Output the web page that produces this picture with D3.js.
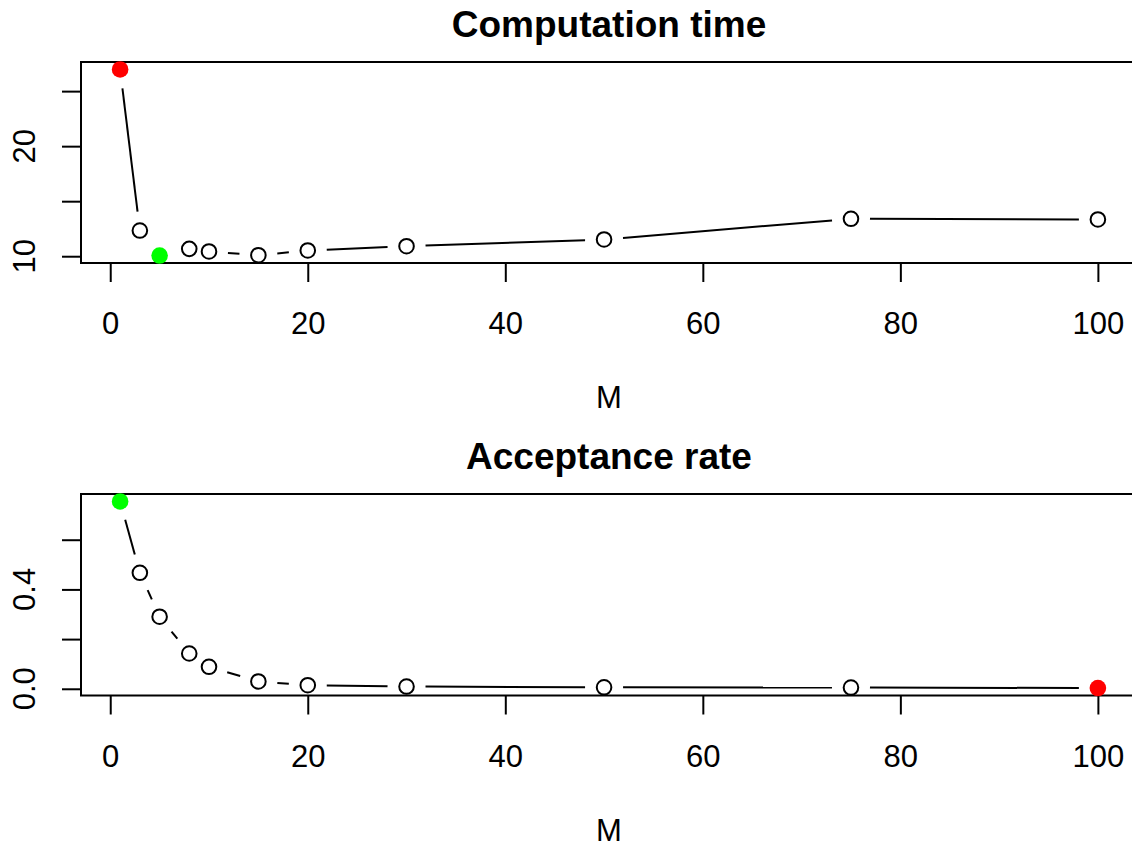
<!DOCTYPE html>
<html>
<head>
<meta charset="utf-8">
<script src="https://cdn.jsdelivr.net/npm/d3@7"></script>
<style>
  html, body { margin: 0; padding: 0; background: #fff; }
  svg { display: block; font-family: "Liberation Sans", Arial, Helvetica, sans-serif; }
</style>
</head>
<body>
<svg id="chart" width="1132" height="846"></svg>
<script>
// Tuning parameter M and the two measured quantities
const mValues = [1, 3, 5, 8, 10, 15, 20, 30, 50, 75, 100];
const computationTime = [26.97, 12.33, 10.06, 10.67, 10.43, 10.09, 10.52, 10.91, 11.52, 13.40, 13.34];
const acceptanceRate = [0.754, 0.467, 0.29, 0.142, 0.0886, 0.0294, 0.0145, 0.009, 0.006, 0.005, 0.003];

// Axis ticks and which of them carry labels
const xTicks = [0, 20, 40, 60, 80, 100];
const timeTicks = [10, 15, 20, 25];
const timeTickLabels = [10, 20];
const rateTicks = [0, 0.2, 0.4, 0.6];
const rateTickLabels = [0, 0.4];

// Highlighted points: index of the red point and of the green point
const timeHighlight = { red: 0, green: 2 };
const rateHighlight = { red: 10, green: 0 };

const svg = d3.select("#chart");

const W = { left: 81, right: 1137 };
const panels = [
  { title: "Computation time", values: computationTime, ticks: timeTicks, labels: timeTickLabels,
    fmt: d3.format("d"), top: 62, bottom: 263, hl: timeHighlight },
  { title: "Acceptance rate", values: acceptanceRate, ticks: rateTicks, labels: rateTickLabels,
    fmt: d3.format(".1f"), top: 494, bottom: 695.5, hl: rateHighlight }
];

// Axis extent: data range padded by 4% on each side
function padded(ext) {
  const r = ext[1] - ext[0];
  return [ext[0] - 0.04 * r, ext[1] + 0.04 * r];
}

const x = d3.scaleLinear().domain(padded(d3.extent(mValues))).range([W.left, W.right]);

const TICK = 19, GAP = 19, R_OPEN = 7.3, R_FILL = 8.3, LW = 2;
const fontAxis = 31, fontTitle = 37;

panels.forEach(p => {
  const y = d3.scaleLinear().domain(padded(d3.extent(p.values))).range([p.bottom, p.top]);
  const g = svg.append("g");

  // Plot frame
  g.append("rect")
    .attr("x", W.left).attr("y", p.top)
    .attr("width", W.right - W.left).attr("height", p.bottom - p.top)
    .attr("fill", "none").attr("stroke", "#000").attr("stroke-width", LW);

  // X axis ticks and labels
  const xa = g.append("g").attr("transform", `translate(0,${p.bottom})`)
    .call(d3.axisBottom(x).tickValues(xTicks).tickSize(TICK).tickPadding(0).tickFormat(d3.format("d")));
  xa.select(".domain").remove();
  xa.selectAll(".tick line").attr("stroke", "#000").attr("stroke-width", LW);
  xa.selectAll(".tick text")
    .attr("y", 71).attr("dy", null)
    .attr("font-size", fontAxis).attr("font-family", null).attr("fill", "#000");

  // Y axis ticks and labels (rotated, parallel to the axis)
  const ya = g.append("g").attr("transform", `translate(${W.left},0)`)
    .call(d3.axisLeft(y).tickValues(p.ticks).tickSize(TICK).tickFormat(""));
  ya.select(".domain").remove();
  ya.selectAll(".tick line").attr("stroke", "#000").attr("stroke-width", LW);
  g.selectAll(".ylab").data(p.labels).join("text")
    .attr("class", "ylab")
    .attr("transform", d => `translate(35,${y(d)}) rotate(-90)`)
    .attr("text-anchor", "middle")
    .attr("font-size", fontAxis)
    .text(d => p.fmt(d));

  // Axis title and panel title
  g.append("text")
    .attr("x", (W.left + W.right) / 2).attr("y", p.bottom + 145)
    .attr("text-anchor", "middle").attr("font-size", fontAxis).text("M");
  g.append("text")
    .attr("x", (W.left + W.right) / 2).attr("y", p.top - 25)
    .attr("text-anchor", "middle").attr("font-size", fontTitle).attr("font-weight", "bold")
    .text(p.title);

  // Connecting segments, broken around each point
  const pts = mValues.map((m, i) => [x(m), y(p.values[i])]);
  for (let i = 0; i < pts.length - 1; i++) {
    const [x0, y0] = pts[i], [x1, y1] = pts[i + 1];
    const len = Math.hypot(x1 - x0, y1 - y0);
    if (len <= 2 * GAP) continue;
    const ux = (x1 - x0) / len, uy = (y1 - y0) / len;
    g.append("line")
      .attr("x1", x0 + ux * GAP).attr("y1", y0 + uy * GAP)
      .attr("x2", x1 - ux * GAP).attr("y2", y1 - uy * GAP)
      .attr("stroke", "#000").attr("stroke-width", LW);
  }

  // Points
  g.selectAll(".pt").data(mValues.map((m, i) => ({ m, v: p.values[i], i }))).join("circle")
    .attr("class", "pt")
    .attr("cx", d => x(d.m)).attr("cy", d => y(d.v))
    .attr("r", d => (d.i === p.hl.red || d.i === p.hl.green) ? R_FILL : R_OPEN)
    .attr("fill", d => d.i === p.hl.red ? "#ff0000" : d.i === p.hl.green ? "#00ff00" : "#fff")
    .attr("stroke", d => (d.i === p.hl.red || d.i === p.hl.green) ? "none" : "#000")
    .attr("stroke-width", LW);
});
</script>
</body>
</html>
